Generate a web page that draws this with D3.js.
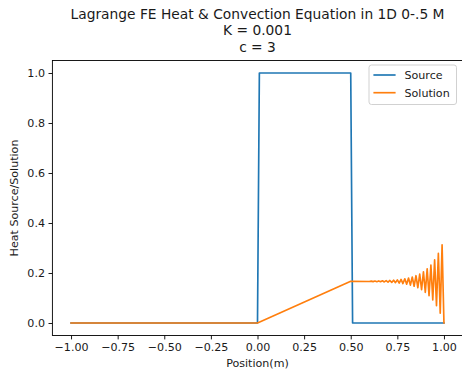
<!DOCTYPE html>
<html>
<head>
<meta charset="utf-8">
<script src="https://cdn.jsdelivr.net/npm/d3@7"></script>
<style>
  html, body { margin: 0; padding: 0; background: #fff; }
  svg { display: block; font-family: "DejaVu Sans", sans-serif; }
</style>
</head>
<body>
<svg id="chart" width="462" height="372"></svg>
<script>
// ---- data ----
const titleLines = ["Lagrange FE Heat & Convection Equation in 1D 0-.5 M", "K = 0.001", "c = 3"];
const xLabel = "Position(m)";
const yLabel = "Heat Source/Solution";
const seriesNames = ["Source", "Solution"];
const seriesColors = ["#1f77b4", "#ff7f0e"];

const xTicks = [-1.00, -0.75, -0.50, -0.25, 0.00, 0.25, 0.50, 0.75, 1.00];
const yTicks = [0.0, 0.2, 0.4, 0.6, 0.8, 1.0];

const sourceX = [-1.00, 0.00, 0.01, 0.50, 0.51, 1.00];
const sourceY = [0, 0, 1, 1, 0, 0];

const solutionX = [-1.00, 0.00, 0.50,
  0.60, 0.61, 0.62, 0.63, 0.64, 0.65, 0.66, 0.67, 0.68, 0.69,
  0.70, 0.71, 0.72, 0.73, 0.74, 0.75, 0.76, 0.77, 0.78, 0.79,
  0.80, 0.81, 0.82, 0.83, 0.84, 0.85, 0.86, 0.87, 0.88, 0.89,
  0.90, 0.91, 0.92, 0.93, 0.94, 0.95, 0.96, 0.97, 0.98, 0.99, 1.00];
const solutionY = [0, 0, 0.1667,
  0.1659, 0.1676, 0.1656, 0.1679, 0.1653, 0.1682, 0.1649, 0.1687, 0.1643, 0.1693,
  0.1636, 0.1701, 0.1627, 0.1712, 0.1615, 0.1726, 0.1599, 0.1744, 0.1578, 0.1768,
  0.1551, 0.1799, 0.1516, 0.1839, 0.1470, 0.1892, 0.1410, 0.1960, 0.1331, 0.2050,
  0.1228, 0.2168, 0.1094, 0.2321, 0.0919, 0.2522, 0.0690, 0.2783, 0.0391, 0.3125, 0];

// ---- layout ----
const svg = d3.select("#chart");
const L = 52.4, R = 462.6, T = 60.5, B = 335.5;
const x = d3.scaleLinear().domain([-1.1, 1.1]).range([L, R]);
const y = d3.scaleLinear().domain([-0.05, 1.05]).range([B, T]);
const textColor = "#1a1a1a";

// axes
const xAxis = d3.axisBottom(x).tickValues(xTicks).tickFormat(d => d3.format(".2f")(d).replace("-", "\u2212")).tickSizeOuter(0).tickSize(3.9).tickPadding(3.5);
const yAxis = d3.axisLeft(y).tickValues(yTicks).tickFormat(d3.format(".1f")).tickSizeOuter(0).tickSize(3.9).tickPadding(3.5);

const gx = svg.append("g").attr("transform", `translate(0,${B})`).call(xAxis);
const gy = svg.append("g").attr("transform", `translate(${L},0)`).call(yAxis);
[gx, gy].forEach(g => {
  g.select(".domain").remove();
  g.selectAll(".tick line").attr("stroke", "#000").attr("stroke-width", 0.9);
  g.selectAll(".tick text").attr("fill", textColor).style("font-size", "11.1px").style("font-family", "DejaVu Sans");
});

// lines
const line = d3.line().x(d => x(d[0])).y(d => y(d[1]));
const series = [d3.zip(sourceX, sourceY), d3.zip(solutionX, solutionY)];
const clip = svg.append("clipPath").attr("id", "clip").append("rect")
  .attr("x", L).attr("y", T).attr("width", R - L).attr("height", B - T);
series.forEach((s, i) => {
  svg.append("path").datum(s)
    .attr("clip-path", "url(#clip)")
    .attr("fill", "none")
    .attr("stroke", seriesColors[i])
    .attr("stroke-width", 1.67)
    .attr("stroke-linejoin", "round")
    .attr("stroke-linecap", "square")
    .attr("d", line);
});

// frame
svg.append("rect").attr("x", L).attr("y", T).attr("width", R - L).attr("height", B - T)
  .attr("fill", "none").attr("stroke", "#000").attr("stroke-width", 0.9);

// title
const title = svg.append("text").attr("text-anchor", "middle").attr("fill", textColor)
  .style("font-size", "13.8px");
titleLines.forEach((t, i) => {
  title.append("tspan").attr("x", (L + R) / 2).attr("y", 19 + i * 16.3).text(t);
});

// axis labels
svg.append("text").attr("x", (L + R) / 2).attr("y", 367).attr("text-anchor", "middle")
  .attr("fill", textColor).style("font-size", "11.1px").text(xLabel);
svg.append("text").attr("transform", `translate(18,${(T + B) / 2}) rotate(-90)`)
  .attr("text-anchor", "middle").attr("fill", textColor).style("font-size", "11.1px").text(yLabel);

// legend
const lg = svg.append("g");
lg.append("rect").attr("x", 369).attr("y", 65).attr("width", 87.5).attr("height", 39.5)
  .attr("rx", 2.5).attr("fill", "#fff").attr("fill-opacity", 0.8)
  .attr("stroke", "#cccccc").attr("stroke-width", 0.9);
seriesNames.forEach((n, i) => {
  const cy = 75 + i * 17.7;
  lg.append("line").attr("x1", 373.4).attr("x2", 395.6).attr("y1", cy).attr("y2", cy)
    .attr("stroke", seriesColors[i]).attr("stroke-width", 1.67);
  lg.append("text").attr("x", 404.5).attr("y", cy + 4).attr("fill", textColor)
    .style("font-size", "11.1px").text(n);
});
</script>
</body>
</html>
